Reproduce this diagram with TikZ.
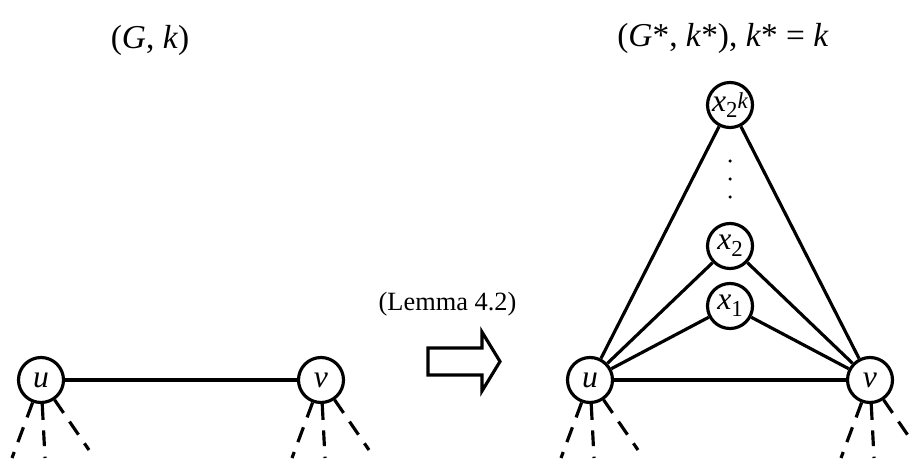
\documentclass[tikz,border=0pt]{standalone}
\usepackage{fontspec}
\setmainfont{Liberation Serif}
\usepackage{tikz}

\newcommand{\vsub}[1]{\raisebox{-0.45ex}{\fontsize{13}{13}\selectfont #1}}

\begin{document}
\begin{tikzpicture}[line width=1.8pt,
  vtx/.style={circle, draw, inner sep=0pt, minimum size=9mm, font=\fontsize{18}{20}\selectfont},
  stub/.style={dash pattern=on 9pt off 6pt},
  title/.style={font=\fontsize{19}{22}\selectfont}]
\useasboundingbox (0,0) rectangle (18.22,9.26);
\clip (0,0) rectangle (18.22,9.26);

\node[title] (tG) at (3.0,8.46) {(\textit{G}, \textit{k})};
\node[title] (tGs) at (14.46,8.5) {(\textit{G}*, \textit{k}*), \textit{k}* = \textit{k}};

% left graph
\node[vtx] (u) at (0.82,1.66) {\textit{u}};
\node[vtx] (v) at (6.42,1.66) {\textit{v}};
\draw (u)--(v);

% right graph
\node[vtx] (us) at (11.8,1.66) {\textit{u}};
\node[vtx] (vs) at (17.4,1.66) {\textit{v}};
\node[vtx] (x1) at (14.6,3.14) {\textit{x}\vsub{1}};
\node[vtx] (x2) at (14.6,4.34) {\textit{x}\vsub{2}};
\node[vtx] (xk) at (14.6,7.16) {\textit{x}\vsub{2\raisebox{0.9ex}{\textit{k}}}};
\foreach \y in {6.04,5.68,5.32} \fill (14.6,\y) circle (0.035);

\draw (us)--(vs);
\draw (us)--(x1)--(vs);
\draw (us)--(x2)--(vs);
\draw (us)--(xk)--(vs);

% dangling edges
\foreach \n in {u,v,us,vs} {
  \coordinate (\n a) at ([shift={(-0.58,-1.56)}]\n.center);
  \coordinate (\n b) at ([shift={(0.08,-1.56)}]\n.center);
  \coordinate (\n c) at ([shift={(0.96,-1.4)}]\n.center);
  \draw[stub] (\n)--(\n a);
  \draw[stub] (\n)--(\n b);
  \draw[stub] (\n)--(\n c);
}

% reduction arrow
\node[font=\fontsize{15}{17}\selectfont] (lem) at (8.95,3.18) {(Lemma 4.2)};
\draw[line join=miter] (8.56,2.3) -- (9.64,2.3) -- (9.64,2.62) -- (10.0,2.03)
  -- (9.64,1.44) -- (9.64,1.76) -- (8.56,1.76) -- cycle;
\end{tikzpicture}
\end{document}
